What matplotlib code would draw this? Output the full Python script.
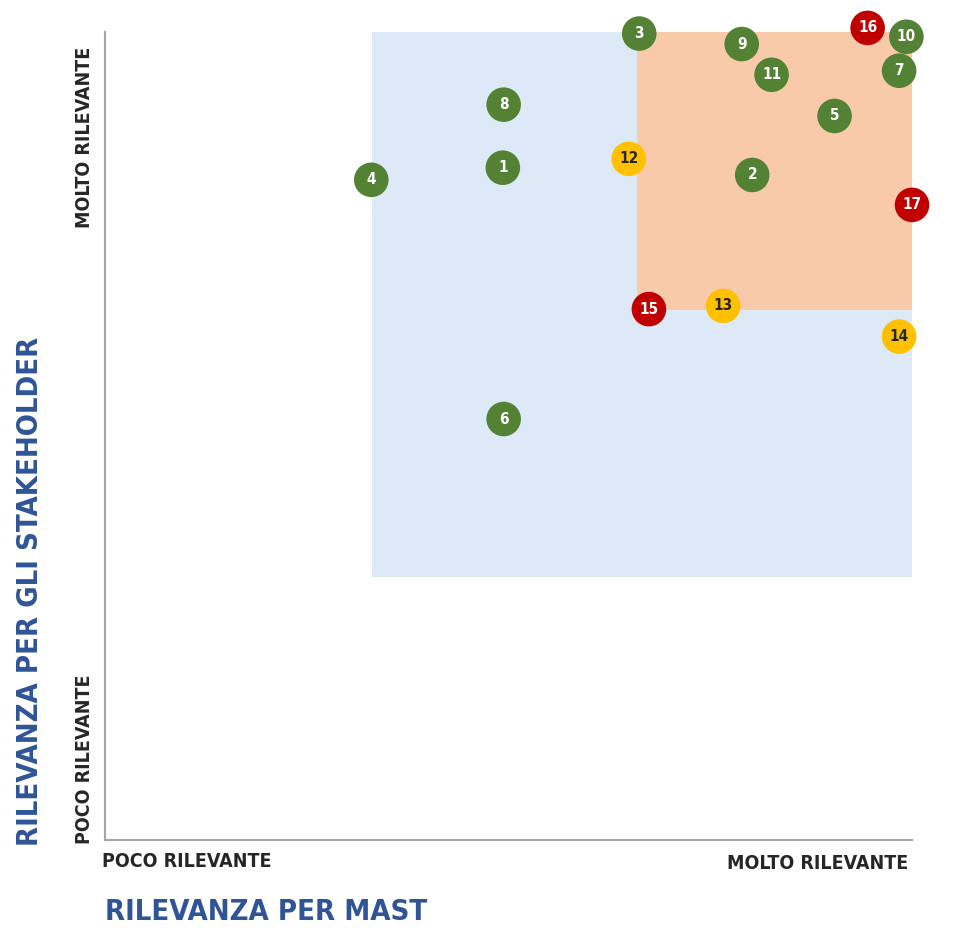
import matplotlib
matplotlib.use("Agg")
from matplotlib import rcParams
rcParams['font.family'] = ['DejaVu Sans']
rcParams['font.stretch'] = 'condensed'
import matplotlib.pyplot as plt
from matplotlib.patches import Rectangle

# Temi materiali: posizione (rilevanza per MAST, rilevanza per stakeholder)
labels = ["1", "2", "3", "4", "5", "6", "7", "8", "9",
          "10", "11", "12", "13", "14", "15", "16", "17"]
x_mast = [4.93, 8.02, 6.62, 3.30, 9.04, 4.94, 9.84, 4.94, 7.89,
          9.93, 8.26, 6.49, 7.66, 9.84, 6.74, 9.45, 10.0]
y_stake = [8.32, 8.23, 9.98, 8.17, 8.96, 5.21, 9.52, 9.10, 9.85,
           9.94, 9.47, 8.43, 6.61, 6.23, 6.57, 10.05, 7.86]
groups = ["g", "g", "g", "g", "g", "g", "g", "g", "g",
          "g", "g", "y", "y", "y", "r", "r", "r"]

colors = {"g": "#548235", "y": "#ffc000", "r": "#c00000"}
txt_colors = {"g": "white", "y": "#262626", "r": "white"}

fig = plt.figure(figsize=(9.54, 9.31), dpi=100)
ax = fig.add_axes([0.110, 0.0977, 0.846, 0.868])
ax.set_xlim(0, 10)
ax.set_ylim(0, 10)

# zone
ax.add_patch(Rectangle((3.31, 3.25), 10 - 3.31, 10 - 3.25, color="#dde9f6", zorder=1, lw=0))
ax.add_patch(Rectangle((6.59, 6.56), 10 - 6.59, 10 - 6.56, color="#f8caaa", zorder=2, lw=0))

for xi, yi, lab, g in zip(x_mast, y_stake, labels, groups):
    ax.scatter(xi, yi, s=620, color=colors[g], edgecolors="none", zorder=5, clip_on=False)
    ax.text(xi, yi, lab, ha="center", va="center", fontsize=11, fontweight="bold",
            color=txt_colors[g], zorder=6, clip_on=False)

for s in ["top", "right"]:
    ax.spines[s].set_visible(False)
for s in ["left", "bottom"]:
    ax.spines[s].set_color("#a6a6a6")
    ax.spines[s].set_linewidth(1.5)
ax.set_xticks([])
ax.set_yticks([])

# etichette asse
lab_kw = dict(fontsize=14, fontweight="bold", color="#262626", va="center")
fig.text(0.107, 0.075, "POCO RILEVANTE", ha="left", **lab_kw)
fig.text(0.952, 0.073, "MOLTO RILEVANTE", ha="right", **lab_kw)
fig.text(0.089, 0.852, "MOLTO RILEVANTE", rotation=90, ha="center", **lab_kw)
fig.text(0.089, 0.184, "POCO RILEVANTE", rotation=90, ha="center", **lab_kw)

fig.text(0.110, 0.020, "RILEVANZA PER MAST", fontsize=21, fontweight="bold",
         ha="left", va="center", color="#2f5597")
fig.text(0.031, 0.365, "RILEVANZA PER GLI STAKEHOLDER", fontsize=21, fontweight="bold",
         rotation=90, ha="center", va="center", color="#2f5597")

fig.savefig("out.png", dpi=100)
